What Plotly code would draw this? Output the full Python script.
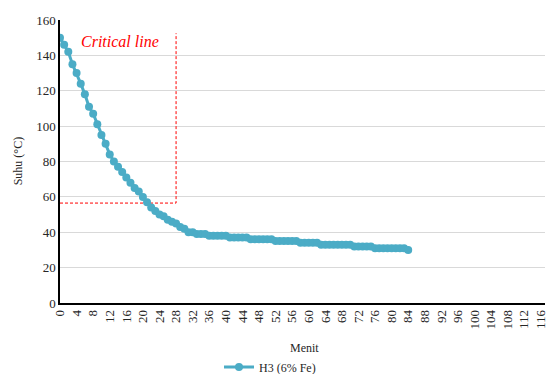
import plotly.graph_objects as go

minutes = list(range(0, 85))
temps = [150, 146, 142, 135, 130, 124, 118, 111, 107, 101,
         95, 90, 84, 80, 77, 74, 71, 68, 65, 63,
         60, 57, 54, 52, 50, 49, 47, 46, 45, 43,
         42, 40, 40, 39, 39, 39, 38, 38, 38, 38,
         38, 37, 37, 37, 37, 37, 36, 36, 36, 36,
         36, 36, 35, 35, 35, 35, 35, 35, 34, 34,
         34, 34, 34, 33, 33, 33, 33, 33, 33, 33,
         33, 32, 32, 32, 32, 32, 31, 31, 31, 31,
         31, 31, 31, 31, 30]
series_name = "H3 (6% Fe)"

crit_x = [0, 28, 28]
crit_y = [56.5, 56.5, 152.5]
crit_label = "Critical line"

x_ticks = list(range(0, 117, 4))
y_ticks = list(range(0, 161, 20))

font_family = "Times New Roman, Liberation Serif, serif"

fig = go.Figure()
fig.add_trace(go.Scatter(
    x=crit_x, y=crit_y, mode="lines",
    line=dict(color="#FF0000", width=1, dash="3px,2px"),
    showlegend=False, hoverinfo="skip"))
fig.add_trace(go.Scatter(
    x=minutes, y=temps, mode="lines+markers", name=series_name,
    line=dict(color="#4BACC6", width=3),
    marker=dict(color="#4BACC6", size=8)))

fig.add_annotation(x=14.5, y=148, text="<i>" + crit_label + "</i>",
                   showarrow=False, font=dict(family=font_family, size=16, color="#FF0000"),
                   xanchor="center", yanchor="middle")
fig.add_annotation(x=0.505, y=-0.16, xref="paper", yref="paper", text="Menit",
                   showarrow=False, font=dict(family=font_family, size=12, color="#262626"),
                   xanchor="center", yanchor="middle")
fig.add_annotation(x=-0.087, y=0.5, xref="paper", yref="paper", text="Suhu (°C)",
                   textangle=-90, showarrow=False,
                   font=dict(family=font_family, size=12, color="#262626"),
                   xanchor="center", yanchor="middle")

fig.update_layout(
    width=548, height=374,
    margin=dict(l=60, r=3, t=20, b=71, autoexpand=False),
    paper_bgcolor="white", plot_bgcolor="white",
    font=dict(family=font_family, size=13, color="#262626"),
    legend=dict(orientation="h", x=0.433, xanchor="center", y=-0.226, yanchor="middle",
                font=dict(size=12, family=font_family)),
    xaxis=dict(range=[0, 117], tickmode="array", tickvals=x_ticks,
               ticktext=[str(v) for v in x_ticks], tickangle=-90,
               ticklabeloverflow="allow",
               tickfont=dict(family=font_family, size=13),
               showgrid=False, showline=True, linecolor="black", linewidth=1.5,
               ticks="", zeroline=False, automargin=False),
    yaxis=dict(range=[0, 160], tickmode="array", tickvals=y_ticks,
               tickfont=dict(family=font_family, size=13),
               showgrid=True, gridcolor="#D9D9D9", gridwidth=1,
               showline=True, linecolor="black", linewidth=1.5,
               ticks="", zeroline=False, automargin=False),
)

fig.write_html("out.html")
